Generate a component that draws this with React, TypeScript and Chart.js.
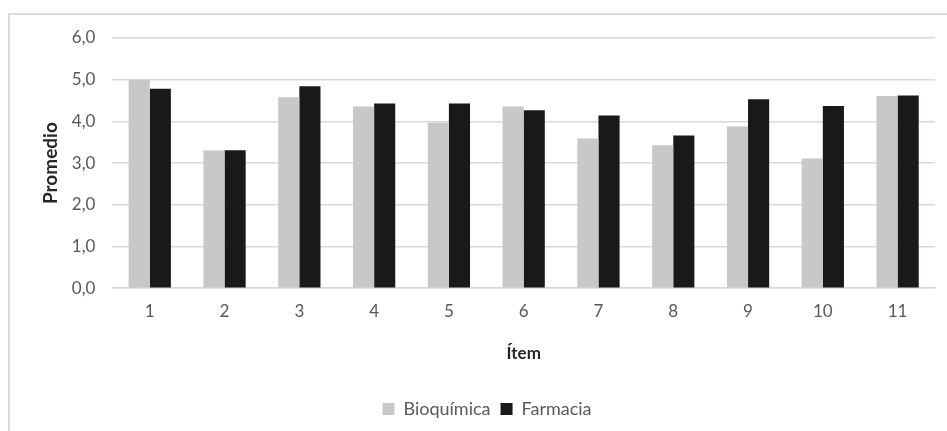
import React, { useEffect, useRef } from "react";
import { Chart, registerables } from "chart.js";

Chart.register(...registerables);

const categories = ["1", "2", "3", "4", "5", "6", "7", "8", "9", "10", "11"];
const bioquimica = [5.0, 3.3, 4.58, 4.36, 3.97, 4.36, 3.59, 3.43, 3.88, 3.11, 4.61];
const farmacia = [4.78, 3.31, 4.84, 4.43, 4.43, 4.27, 4.14, 3.66, 4.53, 4.37, 4.62];
const seriesNames = ["Bioquímica", "Farmacia"];
const yTitle = "Promedio";
const xTitle = "Ítem";

export default function App() {
  const ref = useRef<HTMLCanvasElement | null>(null);
  useEffect(() => {
    if (!ref.current) return;
    const font = "Lato, 'Open Sans', sans-serif";
    const chart = new Chart(ref.current, {
      type: "bar",
      data: {
        labels: categories,
        datasets: [
          { label: seriesNames[0], data: bioquimica, backgroundColor: "#c9c7c7" },
          { label: seriesNames[1], data: farmacia, backgroundColor: "#1b1818" },
        ],
      },
      options: {
        animation: false,
        responsive: false,
        maintainAspectRatio: false,
        layout: { padding: { top: 38, right: 12, left: 39, bottom: 3 } },
        datasets: { bar: { categoryPercentage: 0.565, barPercentage: 1 } },
        plugins: {
          tooltip: { enabled: false },
          legend: {
            position: "bottom",
            labels: {
              boxWidth: 12,
              boxHeight: 12,
              color: "#595959",
              font: { family: font, size: 18 },
              padding: 10,
            },
          },
        },
        scales: {
          x: {
            grid: { display: false, drawTicks: false },
            border: { color: "#d9d9d9", width: 1.5 },
            ticks: { color: "#595959", font: { family: font, size: 17 }, padding: 13 },
            title: {
              display: true,
              text: xTitle,
              color: "#262626",
              font: { family: font, size: 17, weight: "bold" },
              padding: { top: 9, bottom: 26 },
            },
          },
          y: {
            min: 0,
            max: 6,
            grid: { color: "#d9d9d9", lineWidth: 1.5, drawTicks: false },
            border: { display: false },
            ticks: {
              stepSize: 1,
              color: "#595959",
              font: { family: font, size: 17 },
              padding: 17,
              callback: (v: any) => Number(v).toFixed(1).replace(".", ","),
            },
            title: {
              display: true,
              text: yTitle,
              color: "#262626",
              font: { family: font, size: 19, weight: "bold" },
              padding: { top: 0, bottom: -7 },
            },
          },
        },
      },
    });
    return () => chart.destroy();
  }, []);
  return (
    <div style={{ position: "fixed", left: 0, top: 0, width: 947, height: 431, background: "#fff" }}>
      <div
        style={{
          position: "absolute",
          left: 8,
          top: 13,
          right: 0,
          bottom: 0,
          borderLeft: "2px solid #dcdcdc",
          borderTop: "2px solid #dcdcdc",
        }}
      />
      <canvas ref={ref} width={947} height={431} style={{ position: "absolute", left: 0, top: 0, width: 947, height: 431 }} />
    </div>
  );
}
